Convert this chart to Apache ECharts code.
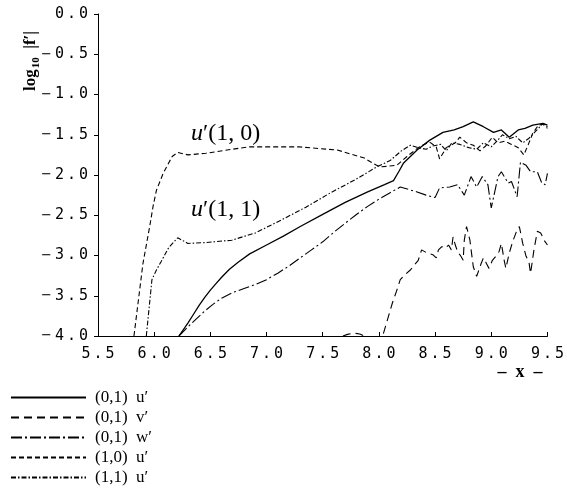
<!DOCTYPE html>
<html>
<head>
<meta charset="utf-8">
<script src="https://cdn.jsdelivr.net/npm/echarts@6/dist/echarts.min.js"></script>
<style>
  html, body { margin: 0; padding: 0; background: #fff; }
  #chart { width: 567px; height: 493px; }
</style>
</head>
<body>
<div id="chart"></div>
<script>
// Disturbance amplitudes, log10 |f'| against x.  null marks a break in a curve.

// (0,1) u'
const u01X = [6.22, 6.26, 6.30, 6.35, 6.40, 6.45, 6.50, 6.55, 6.60, 6.67, 6.75, 6.85, 7.0, 7.15, 7.3, 7.5, 7.7, 7.9, 8.05, 8.13, 8.18, 8.22, 8.28, 8.34, 8.45, 8.57, 8.67, 8.75, 8.84, 8.93, 9.02, 9.09, 9.16, 9.24, 9.3, 9.37, 9.46, 9.5];
const u01Y = [-4.0, -3.92, -3.84, -3.73, -3.62, -3.52, -3.43, -3.35, -3.27, -3.17, -3.08, -2.98, -2.87, -2.76, -2.64, -2.49, -2.34, -2.21, -2.12, -2.07, -1.95, -1.85, -1.77, -1.69, -1.57, -1.47, -1.44, -1.40, -1.34, -1.40, -1.47, -1.44, -1.53, -1.44, -1.42, -1.38, -1.36, -1.38];

// (0,1) v'
const v01X = [7.68, 7.72, 7.78, 7.83, 7.87, 7.95, 8.04, 8.12, 8.16, 8.19, 8.23, 8.28, 8.35, 8.38, 8.43, 8.48, 8.51, 8.53, 8.56, 8.59, 8.62, 8.645, 8.66, 8.68, 8.70, 8.73, 8.75, 8.76, 8.78, 8.81, 8.84, 8.87, 8.9, 8.91, 8.93, 8.95, 8.98, 9.01, 9.04, 9.07, 9.09, 9.115, 9.13, 9.16, 9.19, 9.23, 9.25, 9.28, 9.31, 9.335, 9.35, 9.38, 9.41, 9.44, 9.47, 9.5];
const v01Y = [-4.0, -3.98, -3.965, -3.975, -4.0, null, -3.97, -3.59, -3.43, -3.30, -3.24, -3.18, -3.06, -2.93, -2.97, -2.99, -3.03, -2.93, -2.89, -2.91, -2.87, -2.93, -2.77, -2.87, -2.95, -3.01, -3.06, -2.81, -2.64, -2.81, -3.14, -3.26, -3.14, -3.10, -3.03, -3.08, -3.16, -3.06, -3.01, -2.95, -2.85, -3.06, -3.16, -2.97, -2.83, -2.68, -2.64, -2.85, -3.01, -3.08, -3.22, -2.93, -2.70, -2.72, -2.81, -2.87];

// (0,1) w'
const w01X = [6.22, 6.27, 6.32, 6.38, 6.45, 6.52, 6.6, 6.7, 6.8, 6.9, 7.0, 7.1, 7.2, 7.3, 7.4, 7.5, 7.6, 7.7, 7.8, 7.9, 8.0, 8.1, 8.19, 8.34, 8.42, 8.5, 8.54, 8.63, 8.7, 8.76, 8.82, 8.87, 8.92, 8.97, 9.0, 9.06, 9.09, 9.15, 9.18, 9.23, 9.26, 9.31, 9.35, 9.41, 9.45, 9.48, 9.5];
const w01Y = [-4.0, -3.93, -3.86, -3.78, -3.69, -3.61, -3.53, -3.46, -3.41, -3.36, -3.30, -3.22, -3.13, -3.03, -2.93, -2.83, -2.71, -2.60, -2.49, -2.39, -2.30, -2.22, -2.15, -2.21, -2.25, -2.28, -2.16, -2.15, -2.12, -2.25, -2.02, -2.15, -2.02, -2.12, -2.41, -2.02, -1.96, -2.10, -2.08, -2.27, -1.84, -1.88, -1.96, -1.96, -2.10, -2.12, -1.98];

// (1,0) u'
const u10X = [5.82, 5.9, 5.96, 5.99, 6.02, 6.08, 6.16, 6.21, 6.3, 6.46, 6.84, 7.28, 7.63, 7.87, 7.98, 8.01, 8.16, 8.25, 8.36, 8.45, 8.51, 8.54, 8.6, 8.68, 8.72, 8.78, 8.84, 8.9, 8.95, 9.01, 9.06, 9.12, 9.18, 9.24, 9.29, 9.33, 9.37, 9.42, 9.46, 9.5];
const u10Y = [-4.0, -3.10, -2.64, -2.39, -2.19, -1.98, -1.77, -1.72, -1.75, -1.73, -1.65, -1.65, -1.69, -1.79, -1.88, -1.90, -1.88, -1.77, -1.65, -1.59, -1.65, -1.80, -1.66, -1.60, -1.53, -1.60, -1.63, -1.70, -1.64, -1.53, -1.60, -1.58, -1.62, -1.66, -1.75, -1.62, -1.48, -1.38, -1.37, -1.42];

// (1,1) u'
const u11X = [5.93, 5.98, 6.02, 6.06, 6.13, 6.21, 6.3, 6.45, 6.69, 6.9, 7.13, 7.35, 7.57, 7.8, 7.98, 8.1, 8.2, 8.28, 8.35, 8.42, 8.48, 8.55, 8.6, 8.65, 8.72, 8.8, 8.87, 8.93, 9.0, 9.05, 9.1, 9.16, 9.22, 9.28, 9.33, 9.4, 9.46, 9.5];
const u11Y = [-4.0, -3.30, -3.18, -3.08, -2.90, -2.78, -2.85, -2.84, -2.81, -2.72, -2.56, -2.40, -2.22, -2.05, -1.90, -1.82, -1.70, -1.63, -1.66, -1.68, -1.64, -1.62, -1.70, -1.60, -1.62, -1.66, -1.68, -1.60, -1.65, -1.58, -1.50, -1.55, -1.52, -1.60, -1.55, -1.45, -1.36, -1.40];

const seriesNames = ['(0,1)  u\u2032', '(0,1)  v\u2032', '(0,1)  w\u2032', '(1,0)  u\u2032', '(1,1)  u\u2032'];
const xTicks = { min: 5.5, max: 9.5, step: 0.5 };
const yTicks = { min: -4.0, max: 0.0, step: 0.5 };

function pairs(xs, ys) {
  return xs.map((x, i) => ys[i] === null ? [x, '-'] : [x, ys[i]]);
}

// Tick labels are set with a little extra space between characters,
// and a full-width minus sign.
function spaced(v) {
  return v.toFixed(1).split('').map(c => c === '-' ? '{m|\u2212}' : '{d|' + c + '}').join('{g| }');
}
const tickRich = {
  d: { fontFamily: 'DejaVu Sans Mono', fontSize: 15, color: '#000' },
  m: { fontFamily: 'DejaVu Sans', fontSize: 13, color: '#000' },
  g: { fontFamily: 'DejaVu Sans Mono', fontSize: 5, color: '#000' }
};

function line(name, xs, ys, type, width) {
  return {
    name: name,
    type: 'line',
    data: pairs(xs, ys),
    symbol: 'none',
    clip: true,
    connectNulls: false,
    silent: true,
    lineStyle: { color: '#000', width: width || 1.1, type: type },
    itemStyle: { color: '#000' }
  };
}

const serif = "'Liberation Serif', 'DejaVu Serif', serif";

const chart = echarts.init(document.getElementById('chart'), null, { renderer: 'canvas' });
chart.setOption({
  animation: false,
  backgroundColor: '#fff',
  grid: { left: 98, right: 15, top: 14, bottom: 157, containLabel: false },
  xAxis: {
    type: 'value', min: xTicks.min, max: xTicks.max, interval: xTicks.step,
    axisLine: { onZero: false, lineStyle: { color: '#000', width: 1 } },
    axisTick: { inside: true, length: 4, lineStyle: { color: '#000' } },
    splitLine: { show: false },
    axisLabel: { margin: 11, formatter: spaced, rich: tickRich }
  },
  yAxis: {
    type: 'value', min: yTicks.min, max: yTicks.max, interval: yTicks.step,
    axisLine: { show: true, onZero: false, lineStyle: { color: '#000', width: 1 } },
    axisTick: { show: true, inside: false, length: 4, lineStyle: { color: '#000' } },
    splitLine: { show: false },
    axisLabel: { margin: 10, formatter: spaced, rich: tickRich }
  },
  legend: {
    orient: 'vertical', left: 10, top: 389, height: 104,
    padding: 0,
    itemWidth: 75, itemHeight: 14, itemGap: 3,
    data: seriesNames,
    selectedMode: false,
    itemStyle: { opacity: 0, borderWidth: 0 },
    textStyle: { fontFamily: serif, fontSize: 17, color: '#000', padding: [0, 0, 0, 4] }
  },
  series: [
    line(seriesNames[0], u01X, u01Y, 'solid', 1.3),
    line(seriesNames[1], v01X, v01Y, [8, 5]),
    line(seriesNames[2], w01X, w01Y, [11, 3, 2, 3]),
    line(seriesNames[3], u10X, u10Y, [5, 3]),
    line(seriesNames[4], u11X, u11Y, [5, 2, 1.5, 2])
  ],
  graphic: [
    {
      type: 'text', x: 191, y: 134,
      style: {
        text: '{i|u}{p|\u2032}{r|(1, 0)}',
        verticalAlign: 'middle', align: 'left',
        rich: {
          i: { fontFamily: serif, fontStyle: 'italic', fontSize: 24, fill: '#000' },
          p: { fontFamily: serif, fontSize: 24, fill: '#000' },
          r: { fontFamily: serif, fontSize: 24, fill: '#000' }
        }
      }
    },
    {
      type: 'text', x: 191, y: 210,
      style: {
        text: '{i|u}{p|\u2032}{r|(1, 1)}',
        verticalAlign: 'middle', align: 'left',
        rich: {
          i: { fontFamily: serif, fontStyle: 'italic', fontSize: 24, fill: '#000' },
          p: { fontFamily: serif, fontSize: 24, fill: '#000' },
          r: { fontFamily: serif, fontSize: 24, fill: '#000' }
        }
      }
    },
    {
      type: 'text', x: 31, y: 61, rotation: Math.PI / 2,
      style: {
        text: '{b|log}{s|10}{b|  |f\u2032|}',
        align: 'center', verticalAlign: 'middle',
        rich: {
          b: { fontFamily: serif, fontWeight: 'bold', fontSize: 17, fill: '#000', lineHeight: 22, verticalAlign: 'middle' },
          s: { fontFamily: serif, fontWeight: 'bold', fontSize: 11, fill: '#000', lineHeight: 22, verticalAlign: 'bottom', padding: [7, 0, 0, 1] }
        }
      }
    },
    {
      type: 'text', x: 520, y: 372,
      style: {
        text: '\u2013  x  \u2013',
        align: 'center', verticalAlign: 'middle',
        fontFamily: serif, fontWeight: 'bold', fontSize: 18, fill: '#000'
      }
    }
  ]
});
</script>
</body>
</html>
